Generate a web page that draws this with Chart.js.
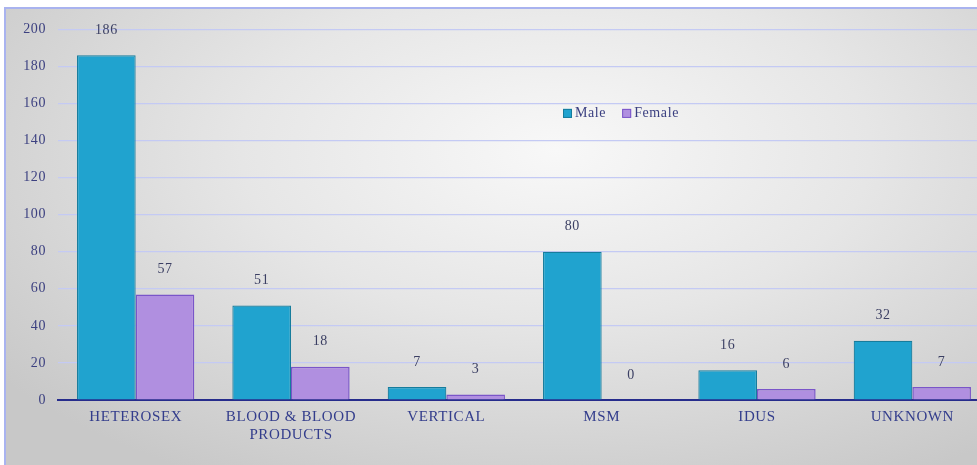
<!DOCTYPE html>
<html>
<head>
<meta charset="utf-8">
<script src="https://cdn.jsdelivr.net/npm/chart.js@4/dist/chart.umd.min.js"></script>
<style>
html, body { margin: 0; padding: 0; background: #fff; overflow: hidden; }
#box {
  position: absolute; left: 4px; top: 7px; width: 1000px; height: 470px;
  border-left: 2px solid #a9b3ef; border-top: 2px solid #a9b3ef;
  background: radial-gradient(ellipse 70% 80% at 55% 30%, #f8f8f8 0%, #e6e6e6 45%, #c8c8c8 100%);
}
canvas { position: absolute; left: 0; top: 0; }
</style>
</head>
<body>
<div id="box"><canvas id="chart" width="984" height="456"></canvas></div>
<script>
var categories = ["HETEROSEX", ["BLOOD & BLOOD", "PRODUCTS"], "VERTICAL", "MSM", "IDUS", "UNKNOWN"];
var male = [186, 51, 7, 80, 16, 32];
var female = [57, 18, 3, 0, 6, 7];
var yTicks = [0, 200, 20];

var serif = "'Liberation Serif', 'DejaVu Serif', serif";

// slightly wider lettering, like the original typeface
var spacing = {
  id: 'spacing',
  beforeDraw: function(chart) { chart.ctx.letterSpacing = "0.6px"; }
};

// numbers above each bar
var barValues = {
  id: 'barValues',
  afterDatasetsDraw: function(chart) {
    var ctx = chart.ctx;
    ctx.save();
    ctx.font = "14px " + serif;
    ctx.fillStyle = "#3b3f63";
    ctx.textAlign = "center";
    ctx.textBaseline = "middle";
    chart.data.datasets.forEach(function(ds, i) {
      chart.getDatasetMeta(i).data.forEach(function(bar, j) {
        ctx.fillText(ds.data[j], bar.x, bar.y - 25);
      });
    });
    ctx.restore();
  }
};

// legend sitting inside the plot
var innerLegend = {
  id: 'innerLegend',
  afterDraw: function(chart) {
    var ctx = chart.ctx;
    var a = chart.chartArea;
    var x = a.left + 505, y = a.top + 84;
    ctx.save();
    ctx.font = "14px " + serif;
    ctx.textBaseline = "middle";
    chart.data.datasets.forEach(function(ds) {
      ctx.fillStyle = ds.backgroundColor;
      ctx.strokeStyle = ds.borderColor;
      ctx.lineWidth = 1;
      ctx.fillRect(x, y - 4.5, 9, 9);
      ctx.strokeRect(x + 0.5, y - 4, 8, 8);
      ctx.fillStyle = "#3a3f80";
      ctx.fillText(ds.label, x + 12, y);
      x += 12 + ctx.measureText(ds.label).width + 16;
    });
    ctx.restore();
  }
};

new Chart(document.getElementById("chart"), {
  type: 'bar',
  data: {
    labels: categories,
    datasets: [{
      label: "Male",
      data: male,
      backgroundColor: "#20a3cf",
      borderColor: "#167c9c",
      borderWidth: 1.2,
      barPercentage: 1,
      categoryPercentage: 0.755
    }, {
      label: "Female",
      data: female,
      backgroundColor: "#b08fe0",
      borderColor: "#7a55c9",
      borderWidth: 1.5,
      barPercentage: 1,
      categoryPercentage: 0.755
    }]
  },
  plugins: [spacing, barValues, innerLegend],
  options: {
    responsive: false,
    animation: false,
    layout: { padding: { top: 18, right: 0, left: 0, bottom: 0 } },
    plugins: {
      legend: { display: false },
      tooltip: { enabled: false }
    },
    scales: {
      x: {
        grid: { display: false, drawTicks: false },
        border: { display: true, color: "#262c8c", width: 2 },
        ticks: { color: "#333d8c", font: { family: serif, size: 15 }, padding: 8, maxRotation: 0, autoSkip: false },
        afterFit: function(s) { s.height = 65; }
      },
      y: {
        min: yTicks[0], max: yTicks[1],
        ticks: { stepSize: yTicks[2], color: "#3c4080", font: { family: serif, size: 14 }, padding: 12 },
        grid: { color: "#c4caf4", lineWidth: 1.2, drawTicks: false },
        border: { display: false },
        afterFit: function(s) { s.width = 52; }
      }
    }
  }
});
</script>
</body>
</html>
